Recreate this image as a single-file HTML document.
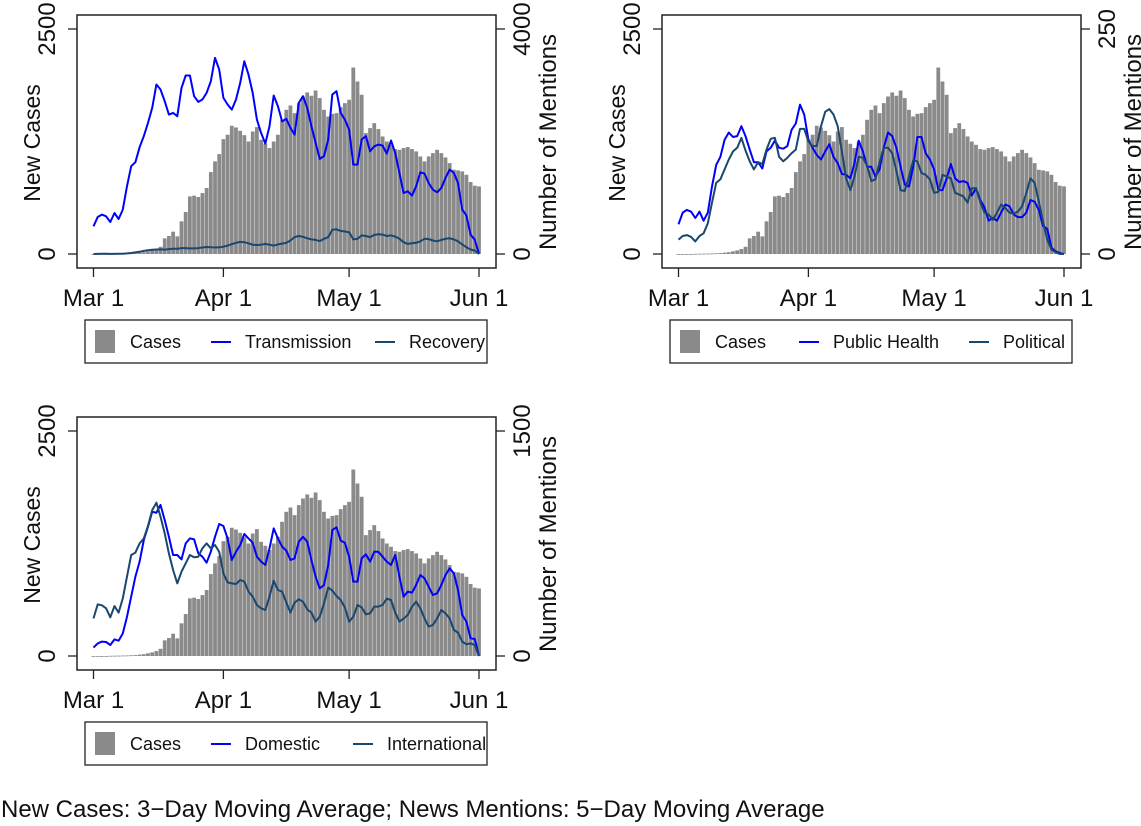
<!DOCTYPE html>
<html><head><meta charset="utf-8">
<style>
html,body{margin:0;padding:0;background:#fff;}
svg{display:block;font-family:"Liberation Sans",Arial,sans-serif;}
</style></head>
<body>
<svg id="chart" width="1141" height="826" viewBox="0 0 1141 826"></svg>
<script>
const dates = ["Mar 1","Apr 1","May 1","Jun 1"];
const dateIdx = [0,31,61,92];
const cases = [0,0,0,0,2,3,4,5,6,8,10,15,20,30,40,55,80,174,200,248,196,363,466,640,648,633,677,733,910,1029,1110,1276,1325,1425,1406,1369,1320,1250,1361,1410,1269,1225,1177,1250,1325,1491,1602,1650,1565,1676,1750,1795,1758,1817,1732,1602,1528,1557,1565,1632,1676,1713,2072,1917,1769,1343,1399,1454,1388,1306,1250,1213,1166,1158,1177,1188,1166,1140,1084,1029,1084,1121,1158,1121,1073,1010,936,929,918,880,800,759,751];
const transmission = [492,658,700,670,569,729,623,789,1205,1561,1632,1898,2094,2331,2598,3013,2924,2716,2479,2509,2450,2953,3173,3173,2805,2704,2746,2864,3070,3487,3280,2775,2657,2568,2746,3042,3427,3190,2864,2390,2153,1963,2272,2817,2627,2360,2402,2242,2123,2686,2805,2598,2272,1976,1691,1738,2035,2835,2894,2509,2390,2212,1590,1590,2035,2094,1826,1915,1945,1927,1785,2017,1798,1441,1085,1115,1038,1204,1453,1429,1263,1144,1097,1174,1352,1500,1441,1263,789,682,344,255,0];
const recovery = [0,2,3,3,2,2,3,5,10,18,28,40,55,65,77,80,82,78,88,92,95,105,105,100,100,105,115,125,120,115,120,130,150,175,200,215,210,190,165,160,165,180,165,150,170,185,200,240,300,320,305,280,260,250,230,270,300,430,440,410,400,385,260,270,330,320,300,340,350,345,320,330,310,270,210,180,190,200,225,270,265,240,225,250,270,280,260,225,170,120,80,60,0];
const publicHealth = [33,46,49,47,40,47,37,46,75,99,108,127,135,130,131,142,131,116,102,102,95,114,118,126,118,117,120,138,145,166,155,127,118,110,105,114,122,108,101,89,88,84,101,126,114,97,97,86,94,118,135,131,118,97,77,75,97,130,130,112,105,94,71,71,84,100,84,80,81,79,65,73,60,52,37,40,37,46,55,53,44,41,41,46,60,58,49,31,28,7,3,1,0];
const political = [16,20,21,19,14,20,23,34,57,79,83,94,105,114,118,129,115,103,94,102,100,116,128,129,108,103,107,112,116,139,139,125,120,120,142,158,161,155,142,114,84,71,86,108,107,98,81,83,102,118,118,112,92,71,70,86,104,103,90,88,83,68,69,88,86,84,68,66,64,57,73,73,58,46,44,38,46,55,51,46,45,47,53,68,84,79,58,36,16,5,2,0,0];
const domestic = [56,84,96,93,73,111,102,151,262,396,529,629,773,862,962,955,1007,907,795,673,673,644,751,784,778,684,662,622,695,795,880,867,784,640,695,740,813,784,755,662,629,607,718,851,784,729,702,640,651,762,795,762,640,529,451,473,607,840,858,769,755,662,496,496,651,678,629,695,695,662,629,607,673,529,396,429,422,473,540,518,462,407,418,473,540,584,551,440,273,229,118,113,0];
const international = [251,344,338,318,258,333,289,384,529,673,689,751,784,867,973,1022,929,818,684,573,484,562,618,673,658,662,718,751,718,740,695,551,491,484,480,507,496,429,396,340,318,307,396,502,440,429,356,289,356,378,362,311,289,229,262,351,456,436,400,373,324,229,262,340,324,278,284,329,329,340,382,373,289,229,249,273,329,362,318,251,196,207,251,307,284,251,173,156,96,78,84,73,0];

const NS="http://www.w3.org/2000/svg";
const svg=document.getElementById('chart');
function mk(tag,attrs,parent,text){const e=document.createElementNS(NS,tag);for(const k in attrs)e.setAttribute(k,attrs[k]);if(text!==undefined)e.textContent=text;(parent||svg).appendChild(e);return e;}

function panel(cfg){
  const g=mk('g',{});
  
  
  const fx0=cfg.fx0, fx1=cfg.fx0+419, top=cfg.y0-14, bot=cfg.y0+239;
  const x0=cfg.fx0+16.5, x1=cfg.fx0+402;
  const xs=d=>x0+(x1-x0)*d/92;
  const yL=v=>cfg.y0+225-225*v/2500;
  const yR=v=>cfg.y0+225-225*v/cfg.rmax;
  const dw=(x1-x0)/92;
  const bars=mk('g',{},g);
  
  
  cases.forEach((v,i)=>{
    const h=cfg.y0+225-yL(v);
    const r=mk('rect',{x:xs(i)-dw/2+0.2,y:yL(v),width:dw-0.4,height:Math.max(h,0.8),fill:'#8a8a8a'},bars);
    
    
  });
  cfg.series.forEach(s=>{
    const p=mk('path',{d:s.data.map((v,i)=>(i?'L':'M')+xs(i).toFixed(1)+','+yR(v).toFixed(1)).join(''),fill:'none',stroke:s.color,'stroke-width':2,'stroke-linejoin':'round'},g);
    
    
  });
  const f=mk('rect',{x:fx0,y:top,width:419,height:bot-top,fill:'none',stroke:'#222','stroke-width':1.5},g);
  
  
  [[0,'0'],[2500,'2500']].forEach(([v,l])=>{
    mk('line',{x1:fx0,x2:fx0-9,y1:yL(v),y2:yL(v),stroke:'#222','stroke-width':1.3},g);
    const t=mk('text',{x:0,y:0,'font-size':24,'text-anchor':'middle',transform:`translate(${fx0-22},${yL(v)}) rotate(-90)`,fill:'#111'},g,l);
    
    
  });
  const lt=mk('text',{'font-size':23,'text-anchor':'middle',transform:`translate(${fx0-37},${cfg.y0+114}) rotate(-90)`,fill:'#111'},g,'New Cases');
  
  
  [[0,'0'],[cfg.rmax,String(cfg.rmax)]].forEach(([v,l])=>{
    mk('line',{x1:fx1,x2:fx1+9,y1:yR(v),y2:yR(v),stroke:'#222','stroke-width':1.3},g);
    const t=mk('text',{'font-size':24,'text-anchor':'middle',transform:`translate(${fx1+34},${yR(v)}) rotate(-90)`,fill:'#111'},g,l);
    
    
  });
  const rt=mk('text',{'font-size':24,'text-anchor':'middle',transform:`translate(${fx1+60},${cfg.y0+113}) rotate(-90)`,fill:'#111'},g,'Number of Mentions');
  
  
  dates.forEach((l,k)=>{
    const x=xs(dateIdx[k]);
    mk('line',{x1:x,x2:x,y1:bot,y2:bot+9,stroke:'#222','stroke-width':1.3},g);
    const t=mk('text',{x:x,y:bot+38,'font-size':24,'text-anchor':'middle',fill:'#111'},g,l);
    
    
  });
  const lg=mk('g',{},g);
  
  
  const ly=cfg.y0+291;
  mk('rect',{x:fx0+8,y:ly,width:402,height:43,fill:'#fff',stroke:'#222','stroke-width':1.3},lg);
  const sw=mk('rect',{x:fx0+18,y:ly+10,width:20,height:23,fill:'#8a8a8a'},lg);
  
  
  mk('text',{x:fx0+53,y:ly+28,'font-size':18,fill:'#111'},lg,'Cases');
  cfg.series.forEach((s,k)=>{
    const lx=fx0+cfg.legX[k];
    const ln=mk('line',{x1:lx,x2:lx+20,y1:ly+22,y2:ly+22,stroke:s.color,'stroke-width':2},lg);
    
    
    mk('text',{x:lx+34,y:ly+28,'font-size':18,fill:'#111'},lg,s.label);
  });
}
panel({name:'panel-transmission-recovery',fx0:77,y0:29,rmax:4000,legX:[134,298],
  series:[{key:'transmission',label:'Transmission',data:transmission,color:'#0000ff'},{key:'recovery',label:'Recovery',data:recovery,color:'#1a476f'}]});
panel({name:'panel-publichealth-political',fx0:662,y0:29,rmax:250,legX:[137,307],
  series:[{key:'public-health',label:'Public Health',data:publicHealth,color:'#0000ff'},{key:'political',label:'Political',data:political,color:'#1a476f'}]});
panel({name:'panel-domestic-international',fx0:77,y0:431,rmax:1500,legX:[134,276],
  series:[{key:'domestic',label:'Domestic',data:domestic,color:'#0000ff'},{key:'international',label:'International',data:international,color:'#1a476f'}]});
const note=mk('text',{x:1,y:817,'font-size':24,fill:'#111'},svg,'New Cases: 3\u2212Day Moving Average; News Mentions: 5\u2212Day Moving Average');


</script>
</body></html>
